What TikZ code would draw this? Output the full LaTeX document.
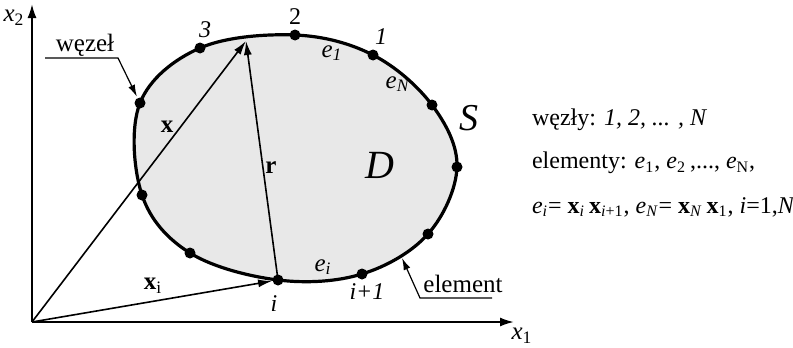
\documentclass[tikz,border=0pt]{standalone}
\usepackage{fontspec}
\setmainfont{Liberation Serif}
\usepackage{tikz}
\usetikzlibrary{arrows.meta,positioning}

\newcommand{\wsub}[2]{#1\textsubscript{#2}}

\begin{document}
\begin{tikzpicture}[
    x=0.5pt, y=-0.5pt,
    os/.style={-{Latex[length=7pt,width=4.5pt]}, line width=1pt},
    wek/.style={-{Latex[length=7pt,width=4pt]}, line width=0.8pt},
    brzeg/.style={line width=1.6pt, fill=black!9},
    wz/.style={circle, fill=black, inner sep=0pt, minimum size=5.5pt},
    wsk/.style={-{Latex[length=6pt,width=3.5pt]}, line width=0.6pt},
    lab/.style={font=\fontsize{12.5}{15}\selectfont},
    num/.style={font=\fontsize{12}{14}\selectfont},
    opis/.style={anchor=west, font=\fontsize{12}{14}\selectfont}
]
\useasboundingbox (0,0) rectangle (793,348);
% uklad wspolrzednych
\coordinate (O) at (32,322);
\coordinate (ax2) at (32,4);
\coordinate (ax1) at (514,322);
% punkty brzegu S
\coordinate (k3) at (200,48);
\coordinate (k2) at (295,35);
\coordinate (k1) at (373,55);
\coordinate (kN) at (432,105);
\coordinate (kb) at (457,167);
\coordinate (kc) at (428,234);
\coordinate (ki1) at (362,274);
\coordinate (ki) at (278,280);
\coordinate (kd) at (190,253);
\coordinate (ke) at (142,195);
\coordinate (kf) at (140,103);
\coordinate (xk) at (246,41);
% obszar D i brzeg S
\draw[brzeg] plot[smooth cycle, tension=0.6] coordinates {(k3) (k2) (k1) (kN) (kb) (kc) (ki1) (ki) (kd) (ke) (kf)};
\draw[os] (O) -- (ax2);
\draw[os] (O) -- (ax1);
% wektory
\draw[wek] (O) -- (xk);
\draw[wek] (ki) -- (xk);
\draw[wek, shorten >=3pt] (O) -- (ki);
% wezly
\foreach \k in {k3,k2,k1,kN,kb,kc,ki1,ki,kd,ke,kf}
    \node[wz] (w-\k) at (\k) {};
% odnosniki
\coordinate (wl) at (45,58);
\coordinate (wr) at (118,58);
\draw[wsk, shorten >=3.5pt] (wl) -- (wr) -- (kf);
\coordinate (el) at (492,298);
\coordinate (er) at (420,298);
\coordinate (es) at (402,258);
\draw[wsk] (el) -- (er) -- (es);
% opisy
\node[lab] (lw) at (85,45) {węzeł};
\node[lab] (le) at (463,284) {element};
\node[num] (n3) at (205,30) {\itshape 3};
\node[num] (n2) at (295,17) {2};
\node[num] (n1) at (381,37) {\itshape 1};
\node[num] (ni) at (274,304) {\itshape i};
\node[num] (ni1) at (367,292) {\itshape i+1};
\node[lab] (e1) at (332,53) {\wsub{\textit{e}}{\textit{1}}};
\node[lab] (eN) at (398,84) {\wsub{\textit{e}}{\textit{N}}};
\node[lab] (ei) at (323,267) {\wsub{\textit{e}}{\textit{i}}};
\node[font=\fontsize{19}{22}\selectfont\itshape] (S) at (469,118) {S};
\node[font=\fontsize{20}{22}\selectfont\itshape] (D) at (380,165) {D};
\node[lab] (lx) at (167,127) {\textbf{x}};
\node[lab] (lr) at (271,168) {\textbf{r}};
\node[lab] (lxi) at (153,286) {\wsub{\textbf{x}}{i}};
\node[lab] (l2) at (14,18) {\wsub{\textit{x}}{2}};
\node[lab] (l1) at (522,336) {\wsub{\textit{x}}{1}};
% legenda
\node[opis] (t1) at (525,120) {węzły: \textit{1, 2, ... , N}};
\node[opis] (t2) at (525,163) {elementy: \wsub{\textit{e}}{1}, \wsub{\textit{e}}{2}\,,..., \wsub{\textit{e}}{N},};
\node[opis] (t3) at (525,207) {\wsub{\textit{e}}{\textit{i}}= \wsub{\textbf{x}}{\textit{i}}\,\wsub{\textbf{x}}{\textit{i}+1}, \wsub{\textit{e}}{\textit{N}}= \wsub{\textbf{x}}{\textit{N}}\,\wsub{\textbf{x}}{1}, \textit{i}=1,\textit{N}};
\end{tikzpicture}
\end{document}
